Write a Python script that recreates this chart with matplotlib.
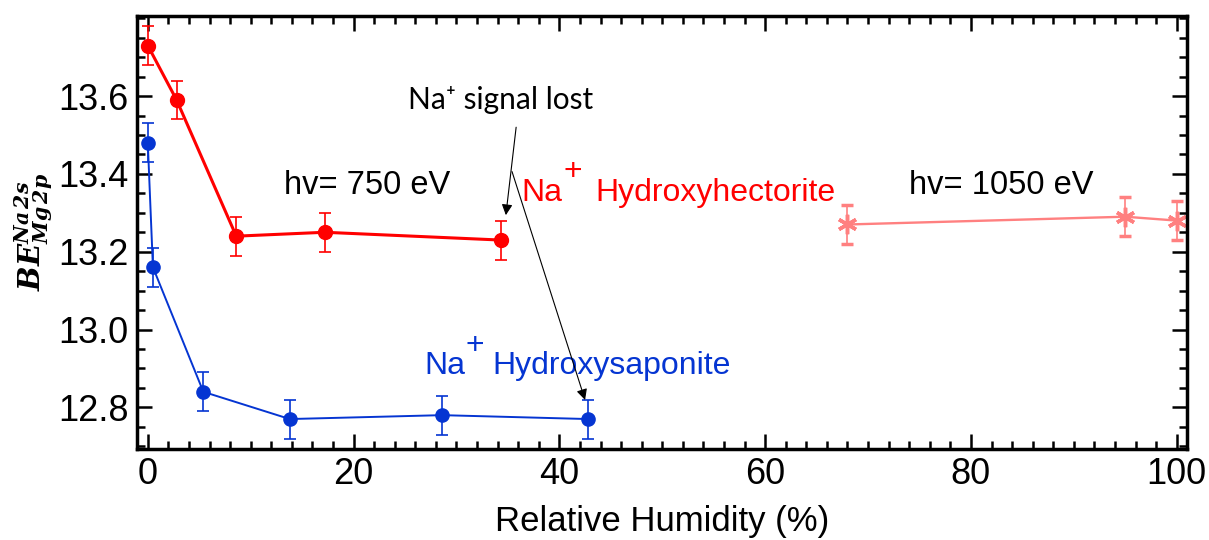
import numpy as np
import matplotlib.pyplot as plt
from matplotlib.ticker import MultipleLocator, FixedLocator

plt.rcParams['font.family'] = ['Liberation Sans', 'DejaVu Sans']

# Na+ hydroxyhectorite, hv = 750 eV
rh_hect = [0.0, 2.8, 8.6, 17.2, 34.3]
be_hect = [13.73, 13.59, 13.24, 13.25, 13.23]
err_hect = [0.05, 0.05, 0.05, 0.05, 0.05]

# Na+ hydroxyhectorite, hv = 1050 eV
rh_hect_hi = [68.0, 95.0, 100.0]
be_hect_hi = [13.27, 13.29, 13.28]
err_hect_hi = [0.05, 0.05, 0.05]

# Na+ hydroxysaponite, hv = 750 eV
rh_sap = [0.0, 0.5, 5.4, 13.8, 28.6, 42.8]
be_sap = [13.48, 13.16, 12.84, 12.77, 12.78, 12.77]
err_sap = [0.05, 0.05, 0.05, 0.05, 0.05, 0.05]

y_major = [12.8, 13.0, 13.2, 13.4, 13.6]

red = '#ff0000'
blue = '#0535d2'
pink = '#ff8080'

fig = plt.figure(figsize=(12.09, 5.40), dpi=100)
ax = fig.add_axes([0.1133, 0.1685, 0.8685, 0.802])

ax.errorbar(rh_hect, be_hect, yerr=err_hect, color=red, lw=2.2, marker='o', ms=10,
            capsize=4.5, elinewidth=1.2, capthick=1.2)
ax.errorbar(rh_sap, be_sap, yerr=err_sap, color=blue, lw=1.4, marker='o', ms=9.5,
            capsize=4.5, elinewidth=1.2, capthick=1.2)
ax.errorbar(rh_hect_hi, be_hect_hi, yerr=err_hect_hi, color=pink, lw=1.7,
            marker=(6, 2, 0), ms=14, mew=2.5, capsize=4.5, elinewidth=1.2, capthick=1.2)

ax.set_xlim(-1.05, 101)
ax.set_ylim(12.693, 13.806)
ax.xaxis.set_major_locator(MultipleLocator(20))
ax.xaxis.set_minor_locator(MultipleLocator(2))
ax.yaxis.set_major_locator(FixedLocator(y_major))
ax.yaxis.set_minor_locator(MultipleLocator(0.05))
ax.yaxis.set_major_formatter(plt.FormatStrFormatter('%.1f'))
ax.tick_params(which='both', direction='in', top=True, right=True, width=1.8)
ax.tick_params(which='major', length=11, labelsize=26, pad=6)
ax.tick_params(which='minor', length=5.5)
for s in ax.spines.values():
    s.set_linewidth(2.5)

ax.set_xlabel('Relative Humidity (%)', fontsize=25, labelpad=9)
ax.set_ylabel(r'$\mathbfit{BE}_{\mathbfit{Mg\,2p}}^{\mathbfit{Na\,2s}}$',
              fontsize=21, math_fontfamily='dejavuserif', labelpad=2)

ax.text(21.3, 13.37, 'hv= 750 eV', fontsize=23.5, va='center', ha='center')
ax.text(82.9, 13.37, 'hv= 1050 eV', fontsize=23.5, va='center', ha='center')

# "Na" + raised "+" + compound name, placed with point offsets from the left anchor
labels = [(36.3, 13.352, red, 37, 53.5, 'Hydroxyhectorite'),
          (26.9, 12.906, blue, 36.5, 48.5, 'Hydroxysaponite')]
for x0, y0, col, plus_dx, name_dx, name in labels:
    ax.text(x0, y0, 'Na', color=col, fontsize=23, va='center', ha='left')
    ax.annotate('+', xy=(x0, y0), xytext=(plus_dx, 14.5), textcoords='offset points',
                color=col, fontsize=23, va='center', ha='center')
    ax.annotate(name, xy=(x0, y0), xytext=(name_dx, 0), textcoords='offset points',
                color=col, fontsize=23, va='center', ha='left')

ax.text(34.3, 13.59, 'Na\u207a signal lost', fontsize=21.5, va='center', ha='center',
        family=['Lato', 'DejaVu Sans'])

arrow = dict(arrowstyle='-|>', color='black', lw=0.8, mutation_scale=16, shrinkA=0, shrinkB=0)
ax.annotate('', xy=(34.8, 13.294), xytext=(35.8, 13.52), arrowprops=arrow)
ax.annotate('', xy=(42.5, 12.819), xytext=(35.4, 13.406), arrowprops=arrow)

fig.savefig('out.png', dpi=100)
